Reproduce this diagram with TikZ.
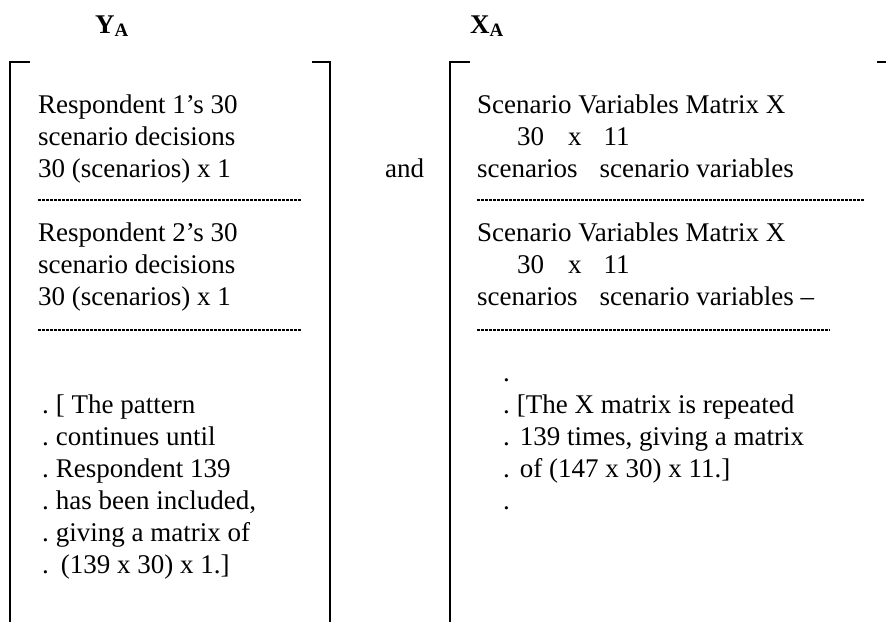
\documentclass[tikz,border=0pt]{standalone}
\usepackage{fontspec}
\setmainfont{Liberation Serif}
\usetikzlibrary{positioning}

\newcommand{\rowdot}{.\hspace{7pt}}

\tikzset{
  txt/.style={font=\fontsize{27}{32}\selectfont,inner sep=0pt,align=left,anchor=base west},
  head/.style={font=\fontsize{27}{32}\selectfont\bfseries,inner sep=0pt,anchor=base west},
  bracket/.style={line width=2.2pt},
  sepline/.style={line width=1.6pt,dash pattern=on 3pt off 1pt}
}

\begin{document}
\begin{tikzpicture}[x=1pt,y=-1pt]
\useasboundingbox (0,0) rectangle (890,622);
% headings
\node[head] (ya) at (95,33) {Y\textsubscript{A}};
\node[head] (xa) at (470,33) {X\textsubscript{A}};
\node[txt] (and) at (385,177) {and};
% brackets
\draw[bracket] (30,62) -- (10,62) -- (10,622);
\draw[bracket] (312,62) -- (330,62) -- (330,622);
\draw[bracket] (470,62) -- (450,62) -- (450,622);
\draw[bracket] (877,62) -- (886,62);
% Y column (base anchor sits on the last line)
\node[txt] (resp1) at (38,177) {Respondent 1's 30\\scenario decisions\\30 (scenarios) x 1};
\node[txt] (resp2) at (38,305) {Respondent 2's 30\\scenario decisions\\30 (scenarios) x 1};
\node[txt] (pattern) at (42,573) {\rowdot[ The pattern\\\rowdot continues until\\\rowdot Respondent 139\\\rowdot has been included,\\\rowdot giving a matrix of\\\rowdot\hspace{5pt}(139 x 30) x 1.]};
\draw[sepline] (38,200) -- (302,200);
\draw[sepline] (38,330) -- (302,330);
% X column
\node[txt] (scen1) at (477,177) {Scenario Variables Matrix X\\\hspace{40pt}30\hspace{24pt}x\hspace{22pt}11\\scenarios\hspace{22pt}scenario variables};
\node[txt] (scen2) at (477,305) {Scenario Variables Matrix X\\\hspace{40pt}30\hspace{24pt}x\hspace{22pt}11\\scenarios\hspace{22pt}scenario variables --};
\node[txt] (repeat) at (503,509) {.\\\rowdot[The X matrix is repeated\\\rowdot\hspace{3pt}139 times, giving a matrix\\\rowdot\hspace{3pt}of (147 x 30) x 11.]\\.};
\draw[sepline] (477,200) -- (865,200);
\draw[sepline] (477,330) -- (830,330);
\end{tikzpicture}
\end{document}
